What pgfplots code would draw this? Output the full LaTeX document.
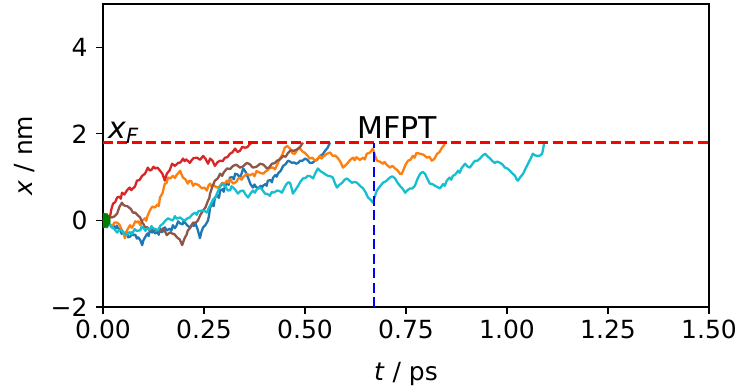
\documentclass[border=0pt]{standalone}
\usepackage{pgfplots}
\pgfplotsset{compat=1.18}
\usepackage{fontspec}
\setmainfont{DejaVu Sans}
\definecolor{tabblue}{HTML}{1F77B4}
\definecolor{taborange}{HTML}{FF7F0E}
\definecolor{tabred}{HTML}{D62728}
\definecolor{tabbrown}{HTML}{8C564B}
\definecolor{tabcyan}{HTML}{17BECF}
\definecolor{mplgreen}{HTML}{008000}
\begin{document}
\begin{tikzpicture}
\begin{axis}[
  scale only axis, width=606pt, height=303pt,
  xmin=0, xmax=1.5, ymin=-2, ymax=5,
  xtick={0,0.25,0.5,0.75,1,1.25,1.5},
  xticklabels={0.00,0.25,0.50,0.75,1.00,1.25,1.50},
  ytick={-2,0,2,4},
  yticklabels={−2,0,2,4},
  /pgf/number format/assume math mode=true,
  tick align=outside, major tick length=7pt,
  tick style={black, line width=1.1pt},
  axis line style={line width=1.1pt},
  xtick pos=bottom, ytick pos=left,
  ticklabel style={font=\fontsize{25}{30}\selectfont},
  yticklabel style={xshift=-5pt},
  xticklabel style={yshift=-2pt},
  label style={font=\fontsize{25}{30}\selectfont},
  xlabel={\textit{t} / ps}, ylabel={\textit{x} / nm},
  xlabel style={yshift=-17pt},
  ylabel style={yshift=9pt},
  clip marker paths=true,
  every axis plot/.append style={line width=2.3pt, line join=round},
]
\coordinate (SW) at (rel axis cs:0,0);
\addplot[tabblue] coordinates {(0,0) (0.005,-0.11) (0.010,-0.16) (0.014,-0.06) (0.017,-0.09) (0.021,-0.15) (0.025,-0.11) (0.031,-0.19) (0.034,-0.12) (0.037,-0.18) (0.043,-0.21) (0.046,-0.31) (0.050,-0.28) (0.056,-0.30) (0.059,-0.25) (0.062,-0.39) (0.068,-0.37) (0.071,-0.28) (0.074,-0.34) (0.080,-0.33) (0.084,-0.42) (0.087,-0.39) (0.092,-0.45) (0.097,-0.57) (0.100,-0.46) (0.104,-0.39) (0.110,-0.30) (0.113,-0.36) (0.116,-0.23) (0.122,-0.28) (0.125,-0.21) (0.129,-0.30) (0.135,-0.27) (0.138,-0.33) (0.141,-0.18) (0.145,-0.27) (0.149,-0.25) (0.153,-0.16) (0.158,-0.23) (0.165,-0.19) (0.169,-0.24) (0.173,-0.11) (0.178,-0.18) (0.182,-0.12) (0.186,-0.02) (0.191,-0.07) (0.197,-0.09) (0.200,-0.01) (0.203,-0.05) (0.209,-0.12) (0.215,-0.16) (0.221,-0.09) (0.225,-0.13) (0.228,-0.05) (0.234,-0.20) (0.240,-0.41) (0.244,-0.25) (0.248,-0.16) (0.254,-0.10) (0.260,0) (0.263,0.15) (0.265,0.30) (0.271,0.38) (0.274,0.33) (0.277,0.53) (0.283,0.58) (0.287,0.52) (0.290,0.69) (0.296,0.72) (0.299,0.66) (0.302,0.80) (0.308,0.86) (0.311,0.82) (0.314,0.99) (0.320,1.00) (0.324,0.95) (0.327,1.08) (0.333,1.06) (0.339,0.99) (0.343,1.08) (0.347,1.20) (0.353,1.12) (0.359,0.99) (0.365,0.84) (0.371,0.76) (0.375,0.83) (0.378,0.78) (0.384,0.74) (0.390,0.80) (0.393,0.74) (0.396,0.80) (0.402,0.84) (0.405,0.80) (0.408,0.92) (0.415,0.93) (0.418,0.88) (0.421,0.99) (0.427,1.05) (0.430,1.01) (0.433,1.08) (0.440,1.15) (0.446,1.26) (0.452,1.30) (0.458,1.38) (0.463,1.36) (0.468,1.33) (0.473,1.34) (0.478,1.31) (0.483,1.33) (0.488,1.38) (0.494,1.38) (0.500,1.43) (0.506,1.40) (0.512,1.33) (0.518,1.33) (0.525,1.38) (0.531,1.41) (0.537,1.49) (0.544,1.53) (0.550,1.61) (0.556,1.68) (0.562,1.80)};
\addplot[taborange] coordinates {(0,0) (0.005,-0.02) (0.010,-0.11) (0.016,-0.08) (0.022,-0.16) (0.028,-0.05) (0.035,-0.05) (0.041,-0.10) (0.047,-0.23) (0.051,-0.30) (0.054,-0.41) (0.060,-0.22) (0.067,-0.11) (0.071,-0.17) (0.075,-0.12) (0.080,-0.02) (0.084,-0.05) (0.088,-0.02) (0.092,-0.11) (0.098,0.00) (0.104,0.05) (0.107,-0.01) (0.110,0.10) (0.116,0.23) (0.122,0.32) (0.129,0.30) (0.135,0.37) (0.138,0.33) (0.141,0.53) (0.147,0.62) (0.153,0.85) (0.157,0.86) (0.161,0.99) (0.167,0.97) (0.173,1.03) (0.178,0.98) (0.182,1.05) (0.186,1.09) (0.191,1.15) (0.194,1.07) (0.198,0.99) (0.204,0.95) (0.210,0.85) (0.214,0.92) (0.219,0.90) (0.223,0.80) (0.228,0.85) (0.236,0.82) (0.245,0.74) (0.251,0.76) (0.257,0.69) (0.261,0.80) (0.265,0.85) (0.269,0.78) (0.273,0.82) (0.282,0.76) (0.288,0.78) (0.295,0.87) (0.301,0.85) (0.307,0.92) (0.311,0.87) (0.315,0.95) (0.322,0.85) (0.330,0.89) (0.334,0.96) (0.339,0.99) (0.343,0.94) (0.347,1.00) (0.356,1.08) (0.363,1.04) (0.371,1.08) (0.375,1.02) (0.380,1.14) (0.389,1.10) (0.397,1.08) (0.402,1.13) (0.406,1.15) (0.414,1.22) (0.421,1.22) (0.426,1.18) (0.430,1.27) (0.438,1.43) (0.444,1.52) (0.450,1.68) (0.456,1.72) (0.463,1.66) (0.469,1.55) (0.475,1.54) (0.481,1.64) (0.488,1.66) (0.494,1.59) (0.500,1.56) (0.506,1.50) (0.512,1.43) (0.518,1.45) (0.525,1.38) (0.531,1.42) (0.537,1.49) (0.541,1.43) (0.545,1.47) (0.554,1.54) (0.562,1.57) (0.569,1.49) (0.575,1.50) (0.582,1.43) (0.588,1.35) (0.594,1.22) (0.600,1.27) (0.606,1.33) (0.612,1.40) (0.619,1.45) (0.623,1.39) (0.627,1.46) (0.636,1.40) (0.644,1.45) (0.648,1.41) (0.653,1.54) (0.661,1.57) (0.668,1.66) (0.673,1.50) (0.678,1.38) (0.685,1.36) (0.693,1.31) (0.697,1.35) (0.701,1.30) (0.710,1.22) (0.716,1.26) (0.723,1.20) (0.729,1.16) (0.735,1.08) (0.739,1.07) (0.743,1.15) (0.749,1.29) (0.755,1.38) (0.761,1.40) (0.767,1.49) (0.771,1.45) (0.776,1.56) (0.785,1.54) (0.793,1.52) (0.802,1.45) (0.808,1.47) (0.814,1.38) (0.820,1.42) (0.827,1.54) (0.833,1.58) (0.839,1.68) (0.843,1.72) (0.847,1.80)};
\addplot[tabred] coordinates {(0,0) (0.005,0.10) (0.010,0.14) (0.013,0.02) (0.017,0.07) (0.021,0.27) (0.025,0.39) (0.030,0.42) (0.035,0.53) (0.041,0.55) (0.044,0.50) (0.047,0.64) (0.053,0.60) (0.059,0.69) (0.066,0.76) (0.070,0.70) (0.074,0.74) (0.079,0.78) (0.084,0.92) (0.090,0.93) (0.097,1.03) (0.104,1.08) (0.111,1.22) (0.116,1.15) (0.120,1.17) (0.125,1.24) (0.129,1.20) (0.135,1.22) (0.141,1.15) (0.147,1.08) (0.153,0.92) (0.156,1.02) (0.158,1.08) (0.165,1.16) (0.171,1.31) (0.178,1.26) (0.186,1.33) (0.192,1.34) (0.198,1.43) (0.202,1.37) (0.206,1.41) (0.215,1.33) (0.220,1.40) (0.224,1.44) (0.233,1.45) (0.240,1.40) (0.248,1.49) (0.254,1.42) (0.260,1.31) (0.263,1.38) (0.265,1.43) (0.271,1.38) (0.277,1.26) (0.284,1.35) (0.290,1.38) (0.296,1.37) (0.302,1.45) (0.308,1.46) (0.314,1.54) (0.320,1.57) (0.327,1.66) (0.333,1.58) (0.339,1.61) (0.345,1.70) (0.351,1.68) (0.357,1.69) (0.364,1.77) (0.371,1.80)};
\addplot[tabbrown] coordinates {(0,0) (0.005,0.04) (0.010,0) (0.016,0.08) (0.022,0.07) (0.028,0.09) (0.035,0.16) (0.041,0.32) (0.047,0.41) (0.050,0.36) (0.054,0.34) (0.060,0.33) (0.067,0.28) (0.070,0.25) (0.074,0.18) (0.080,0.18) (0.087,0.11) (0.092,0.07) (0.097,-0.05) (0.100,-0.08) (0.104,-0.16) (0.110,-0.16) (0.116,-0.23) (0.120,-0.17) (0.125,-0.20) (0.134,-0.23) (0.141,-0.26) (0.149,-0.18) (0.153,-0.24) (0.158,-0.34) (0.165,-0.28) (0.171,-0.30) (0.177,-0.32) (0.183,-0.39) (0.190,-0.44) (0.196,-0.57) (0.200,-0.46) (0.203,-0.39) (0.207,-0.33) (0.210,-0.23) (0.216,-0.17) (0.223,-0.05) (0.229,-0.06) (0.235,0) (0.241,0.13) (0.248,0.23) (0.254,0.31) (0.260,0.46) (0.263,0.51) (0.265,0.62) (0.271,0.79) (0.277,0.92) (0.284,0.97) (0.290,1.08) (0.295,1.03) (0.299,1.11) (0.307,1.20) (0.315,1.19) (0.322,1.26) (0.330,1.29) (0.339,1.22) (0.347,1.25) (0.356,1.33) (0.363,1.30) (0.371,1.22) (0.380,1.24) (0.389,1.31) (0.397,1.29) (0.406,1.20) (0.412,1.23) (0.418,1.31) (0.424,1.32) (0.431,1.38) (0.438,1.41) (0.446,1.49) (0.452,1.47) (0.458,1.56) (0.465,1.62) (0.473,1.61) (0.480,1.64) (0.488,1.70) (0.495,1.80)};
\addplot[tabcyan] coordinates {(0,0) (0.005,0.03) (0.010,-0.05) (0.016,-0.08) (0.022,-0.16) (0.028,-0.20) (0.035,-0.28) (0.041,-0.22) (0.047,-0.23) (0.053,-0.30) (0.059,-0.34) (0.066,-0.27) (0.070,-0.32) (0.074,-0.28) (0.078,-0.20) (0.083,-0.24) (0.092,-0.23) (0.096,-0.14) (0.100,-0.17) (0.105,-0.24) (0.109,-0.18) (0.116,-0.21) (0.120,-0.13) (0.124,-0.18) (0.130,-0.20) (0.136,-0.23) (0.142,-0.12) (0.149,-0.07) (0.155,0.00) (0.161,0.05) (0.167,0.02) (0.173,0) (0.178,0.10) (0.182,0.04) (0.191,0.07) (0.197,0.02) (0.203,0) (0.209,0.05) (0.215,0.07) (0.221,0.14) (0.228,0.18) (0.232,0.13) (0.236,0.21) (0.245,0.23) (0.251,0.22) (0.257,0.18) (0.261,0.27) (0.265,0.34) (0.269,0.42) (0.273,0.49) (0.278,0.52) (0.282,0.62) (0.289,0.77) (0.297,0.85) (0.303,0.78) (0.309,0.69) (0.315,0.70) (0.318,0.79) (0.322,0.76) (0.328,0.70) (0.334,0.62) (0.340,0.68) (0.347,0.69) (0.353,0.60) (0.359,0.53) (0.365,0.62) (0.371,0.69) (0.376,0.64) (0.380,0.71) (0.389,0.76) (0.395,0.70) (0.401,0.62) (0.407,0.61) (0.413,0.57) (0.418,0.66) (0.422,0.64) (0.431,0.69) (0.437,0.68) (0.443,0.64) (0.449,0.76) (0.455,0.85) (0.459,0.88) (0.463,0.87) (0.467,0.74) (0.470,0.62) (0.476,0.70) (0.483,0.80) (0.489,0.90) (0.495,0.97) (0.501,0.98) (0.507,1.03) (0.513,1.02) (0.520,0.97) (0.526,1.10) (0.532,1.20) (0.538,1.14) (0.545,1.10) (0.551,1.06) (0.557,1.03) (0.563,1.02) (0.569,0.99) (0.574,0.86) (0.579,0.76) (0.585,0.82) (0.592,0.87) (0.598,0.94) (0.604,0.97) (0.610,0.92) (0.616,0.87) (0.622,0.89) (0.629,0.87) (0.636,0.80) (0.644,0.74) (0.650,0.65) (0.656,0.53) (0.662,0.48) (0.668,0.41) (0.673,0.56) (0.678,0.69) (0.685,0.78) (0.693,0.87) (0.701,0.91) (0.710,0.99) (0.716,1.02) (0.723,0.97) (0.729,0.87) (0.735,0.80) (0.741,0.74) (0.748,0.64) (0.754,0.70) (0.760,0.74) (0.766,0.74) (0.772,0.80) (0.778,0.95) (0.785,1.08) (0.791,1.12) (0.797,1.08) (0.803,0.96) (0.809,0.85) (0.815,0.84) (0.822,0.80) (0.828,0.77) (0.834,0.74) (0.842,0.84) (0.846,0.80) (0.851,0.92) (0.858,0.99) (0.862,0.94) (0.866,1.03) (0.872,1.06) (0.879,1.15) (0.883,1.10) (0.887,1.20) (0.896,1.31) (0.902,1.25) (0.908,1.22) (0.914,1.30) (0.921,1.38) (0.927,1.38) (0.933,1.43) (0.940,1.50) (0.946,1.54) (0.952,1.48) (0.958,1.43) (0.964,1.37) (0.970,1.33) (0.976,1.36) (0.983,1.33) (0.989,1.29) (0.995,1.22) (1.001,1.20) (1.007,1.15) (1.013,1.09) (1.020,1.03) (1.023,0.96) (1.027,0.92) (1.033,1.00) (1.040,1.08) (1.046,1.20) (1.052,1.31) (1.058,1.42) (1.064,1.54) (1.070,1.50) (1.077,1.49) (1.082,1.50) (1.087,1.54) (1.090,1.68) (1.092,1.80)};
\addplot[red, line width=2.3pt, dash pattern=on 10pt off 4.5pt] coordinates {(0,1.8) (1.5,1.8)};
\addplot[blue, line width=2.3pt, dash pattern=on 10pt off 4.5pt] coordinates {(0.671,-2) (0.671,1.8)};
\addplot[only marks, mark=*, mark size=6.5pt, mplgreen, mark options={draw=mplgreen, fill=mplgreen}] coordinates {(0,0)};
\node[anchor=base west, inner sep=0pt, font=\fontsize{30}{36}\selectfont] at (axis cs:0.012,1.885) {\textit{x}\raisebox{-5pt}{\fontsize{21}{21}\selectfont\itshape F}};
\node[anchor=base, inner sep=0pt, font=\fontsize{30}{36}\selectfont] at (axis cs:0.728,1.885) {MFPT};
\end{axis}
\pgfresetboundingbox
\path ([shift={(-103pt,-82pt)}]SW) rectangle ([shift={(637pt,307pt)}]SW);
\end{tikzpicture}
\end{document}
